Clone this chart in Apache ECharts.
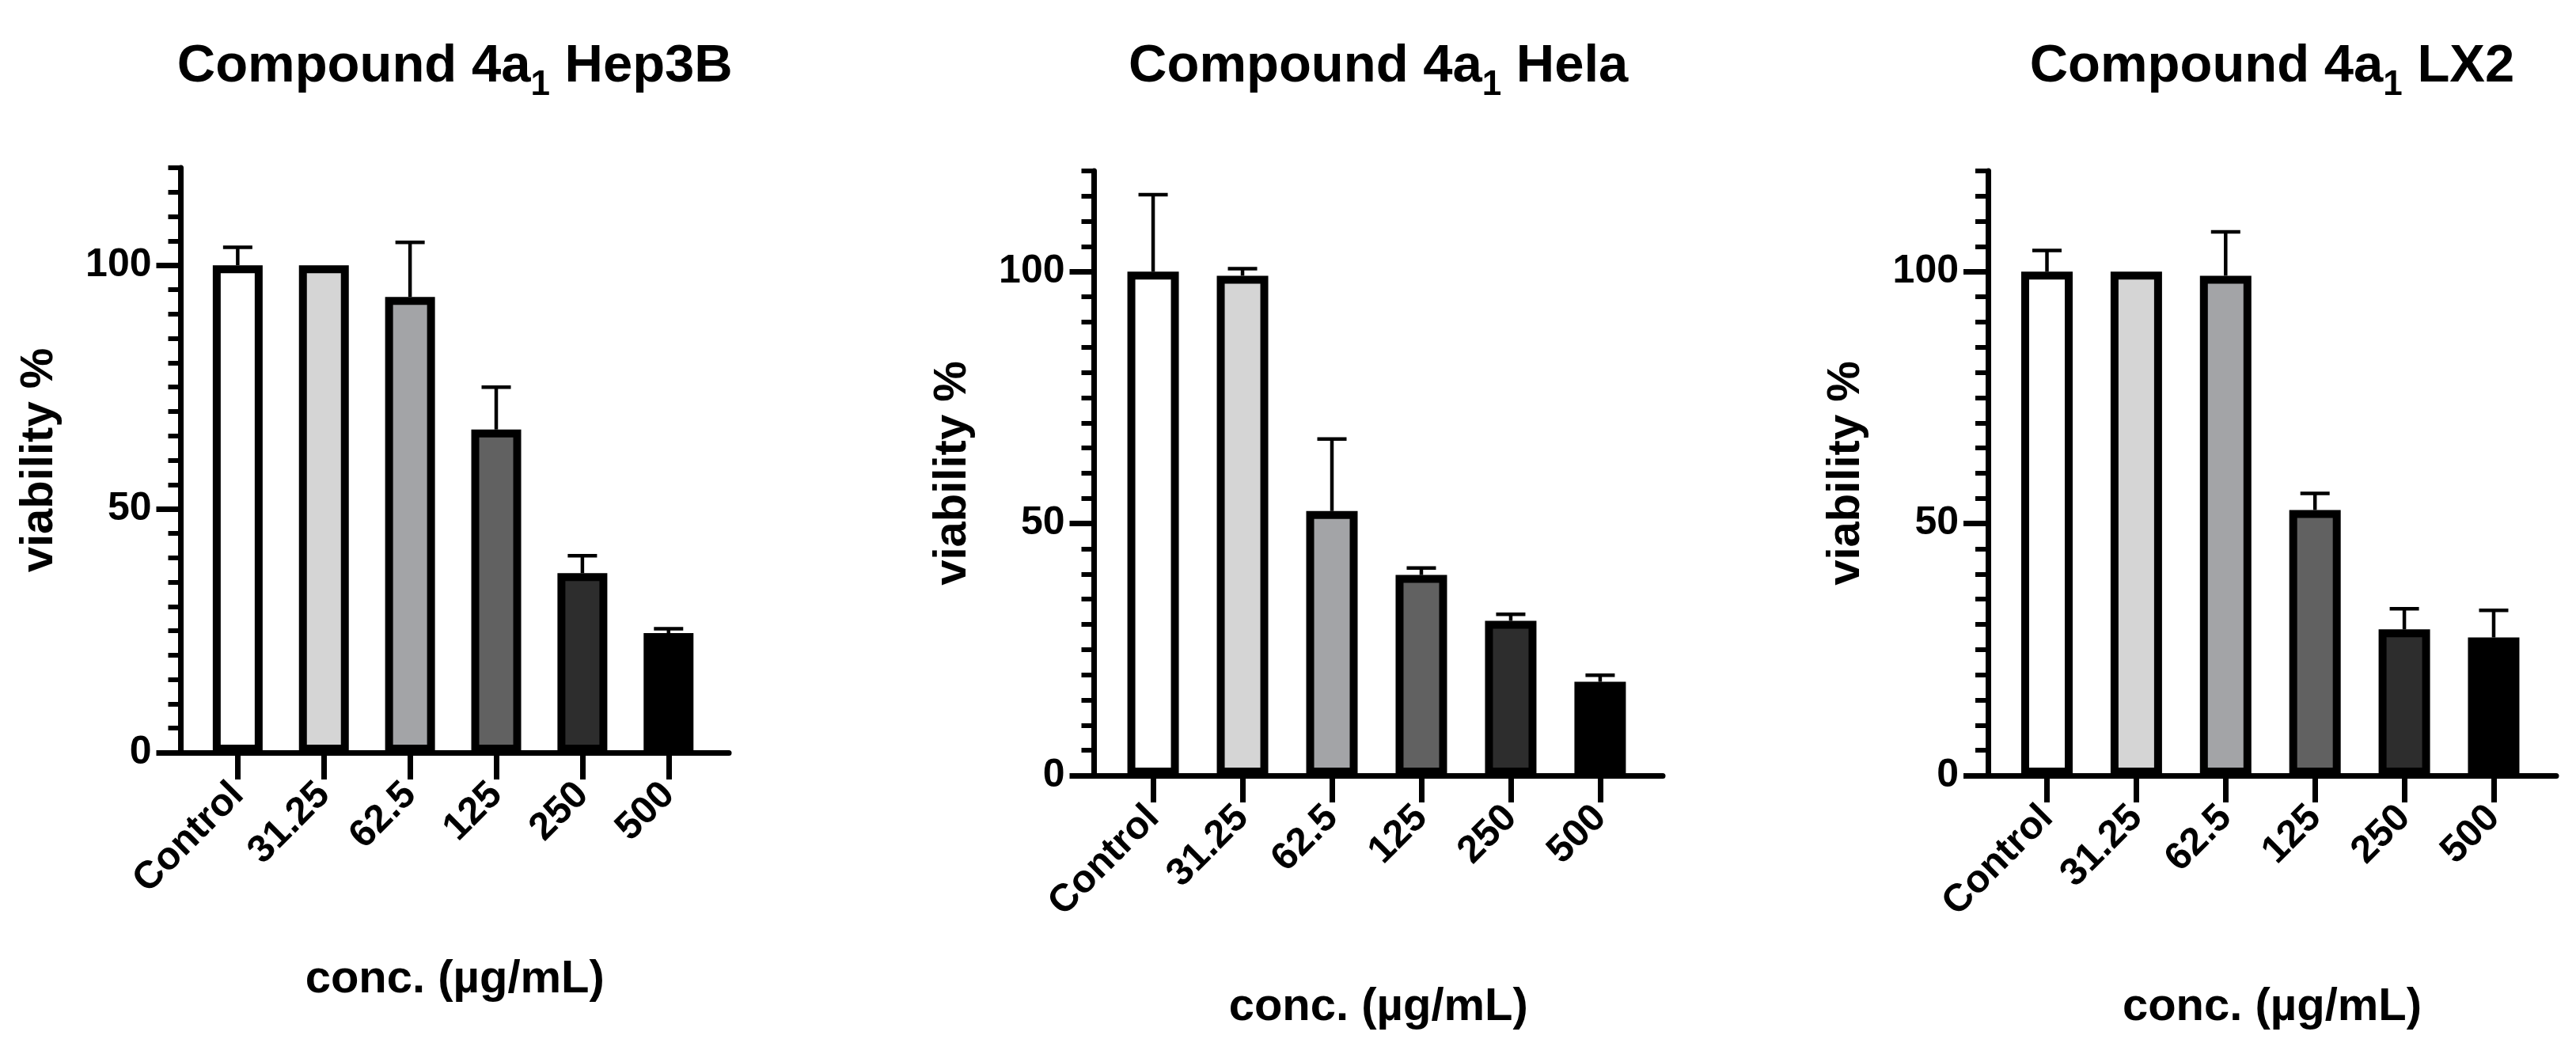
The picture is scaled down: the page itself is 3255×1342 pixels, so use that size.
<!DOCTYPE html>
<html>
<head>
<meta charset="utf-8">
<script src="https://cdn.jsdelivr.net/npm/echarts@6/dist/echarts.min.js"></script>
<style>
  html, body { margin: 0; background: #fff; }
  #chart { width: 3255px; height: 1342px; }
</style>
</head>
<body>
<div id="chart"></div>
<script>
// concentrations (µg/mL) on the x axis
const categories = ['Control', '31.25', '62.5', '125', '250', '500'];
const barColors = ['#ffffff', '#d5d5d5', '#a3a4a7', '#616161', '#2d2d2d', '#000000'];
const yTicks = [0, 50, 100];

// mean viability % and SD
const hep3bMean = [100, 100, 93.5, 66.3, 36.8, 24.5];
const hep3bSd = [3.7, 0, 11.2, 8.7, 3.6, 0.9];
const helaMean = [100, 99.2, 52.5, 39.8, 30.7, 18.6];
const helaSd = [15.3, 1.4, 14.3, 1.4, 1.3, 1.3];
const lx2Mean = [100, 100, 99.2, 52.7, 29.0, 27.4];
const lx2Sd = [4.2, 0, 8.7, 3.3, 4.1, 5.4];

const font = 'Liberation Sans, Arial, sans-serif';

const panels = [
    { cell: 'Hep3B', mean: hep3bMean, sd: hep3bSd, left: 228.5, top: 212, width: 692.5, height: 739, barWidth: 63, xNameGap: 258 },
    { cell: 'Hela', mean: helaMean, sd: helaSd, left: 1382.5, top: 216, width: 718.5, height: 764, barWidth: 65, xNameGap: 264 },
    { cell: 'LX2', mean: lx2Mean, sd: lx2Sd, left: 2512, top: 216, width: 718, height: 764, barWidth: 65, xNameGap: 264 }
];

const boldText = (size) => ({ fontFamily: font, fontWeight: 'bold', fontSize: size, color: '#000' });

// mean -> mean + SD, with a cap on top
function renderErrorBar(params, api) {
    const mean = api.value(1);
    const top = api.value(2);
    if (top <= mean) return null;
    const base = api.coord([api.value(0), mean]);
    const tip = api.coord([api.value(0), top]);
    const style = { stroke: '#000', lineWidth: 4.5 };
    return {
        type: 'group',
        children: [
            { type: 'line', shape: { x1: base[0], y1: base[1], x2: tip[0], y2: tip[1] }, style },
            { type: 'line', shape: { x1: tip[0] - 18.5, y1: tip[1], x2: tip[0] + 18.5, y2: tip[1] }, style }
        ]
    };
}

const option = {
    backgroundColor: '#fff',
    animation: false,
    title: [],
    grid: [],
    xAxis: [],
    yAxis: [],
    series: []
};

panels.forEach((p, i) => {
    option.title.push({
        text: '{t|Compound 4a}{s|1}{t| ' + p.cell + '}',
        left: p.left + p.width / 2,
        top: 40,
        textAlign: 'center',
        padding: 0,
        textStyle: {
            rich: {
                t: boldText(67),
                s: Object.assign(boldText(44), { padding: [46, 0, 0, 0] })
            }
        }
    });
    option.grid.push({
        left: p.left, top: p.top, width: p.width, height: p.height,
        containLabel: false, outerBoundsMode: 'none'
    });
    option.xAxis.push({
        type: 'value',
        gridIndex: i,
        min: -0.66,
        max: 5.7,
        name: 'conc. (µg/mL)',
        nameLocation: 'middle',
        nameGap: p.xNameGap,
        nameTextStyle: boldText(58),
        axisLine: { show: true, onZero: false, lineStyle: { color: '#000', width: 7 } },
        axisTick: { show: true, length: 34, lineStyle: { color: '#000', width: 7 }, customValues: [0, 1, 2, 3, 4, 5] },
        axisLabel: Object.assign(boldText(49), {
            customValues: [0, 1, 2, 3, 4, 5],
            formatter: v => categories[Math.round(v)],
            rotate: 45,
            margin: 46
        }),
        splitLine: { show: false }
    });
    // axis line + minor ticks
    option.yAxis.push({
        type: 'value',
        gridIndex: i,
        position: 'left',
        min: 0,
        max: 120,
        interval: 5,
        name: 'viability %',
        nameLocation: 'middle',
        nameGap: 150,
        nameTextStyle: boldText(58),
        axisLine: { show: true, onZero: false, lineStyle: { color: '#000', width: 7 } },
        axisTick: { show: true, length: 16, lineStyle: { color: '#000', width: 6 } },
        axisLabel: { show: false },
        splitLine: { show: false }
    });
    // major ticks + labels
    option.yAxis.push({
        type: 'value',
        gridIndex: i,
        position: 'left',
        min: 0,
        max: 120,
        interval: 50,
        axisLine: { show: false, onZero: false },
        axisTick: { show: true, length: 31, lineStyle: { color: '#000', width: 7 }, customValues: yTicks },
        axisLabel: Object.assign(boldText(50), { customValues: yTicks, margin: 37 }),
        splitLine: { show: false }
    });
    option.series.push({
        type: 'bar',
        xAxisIndex: i,
        yAxisIndex: 2 * i,
        barWidth: p.barWidth,
        z: 3,
        itemStyle: { borderColor: '#000', borderWidth: 10 },
        data: p.mean.map((v, k) => ({ value: [k, v], itemStyle: { color: barColors[k] } }))
    });
    option.series.push({
        type: 'custom',
        xAxisIndex: i,
        yAxisIndex: 2 * i,
        z: 2,
        renderItem: renderErrorBar,
        data: p.mean.map((v, k) => [k, v, v + p.sd[k]])
    });
});

const myChart = echarts.init(document.getElementById('chart'));
myChart.setOption(option);
</script>
</body>
</html>
